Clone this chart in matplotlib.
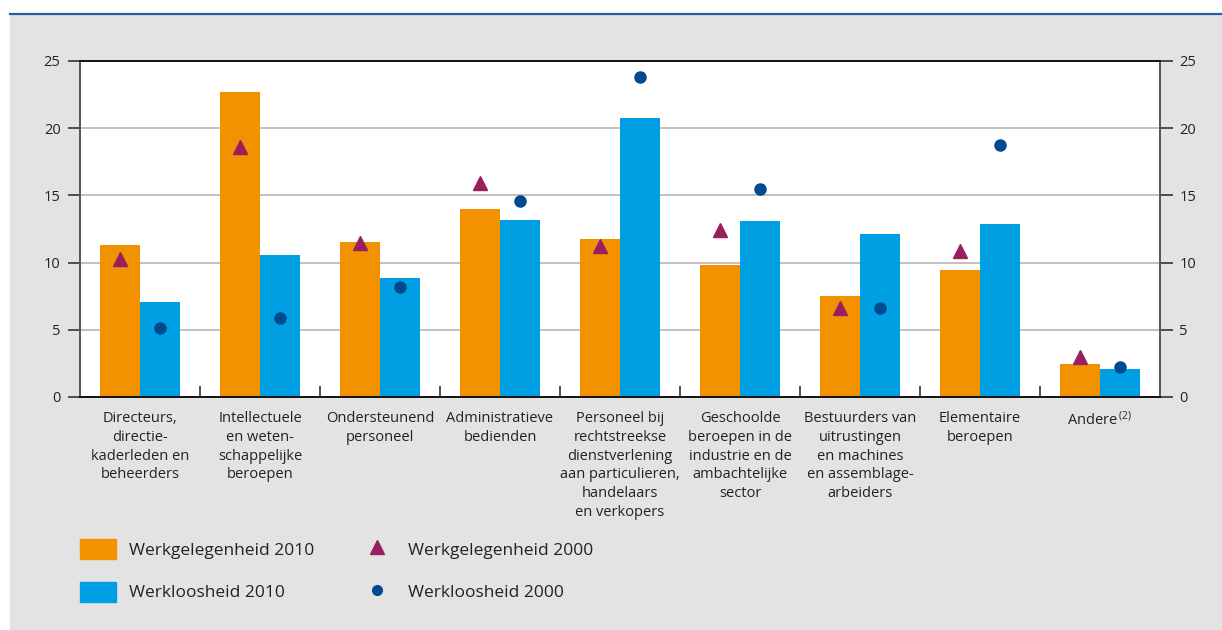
import numpy as np
import matplotlib
matplotlib.use("Agg")
import matplotlib.pyplot as plt
from matplotlib.patches import Patch
from matplotlib.lines import Line2D

plt.rcParams["font.family"] = ["Open Sans", "DejaVu Sans"]
plt.rcParams["mathtext.fontset"] = "custom"
plt.rcParams["mathtext.rm"] = "Open Sans"
plt.rcParams["mathtext.it"] = "Open Sans"

# ---- data ----
categories = [
    "Directeurs,\ndirectie-\nkaderleden en\nbeheerders",
    "Intellectuele\nen weten-\nschappelijke\nberoepen",
    "Ondersteunend\npersoneel",
    "Administratieve\nbedienden",
    "Personeel bij\nrechtstreekse\ndienstverlening\naan particulieren,\nhandelaars\nen verkopers",
    "Geschoolde\nberoepen in de\nindustrie en de\nambachtelijke\nsector",
    "Bestuurders van\nuitrustingen\nen machines\nen assemblage-\narbeiders",
    "Elementaire\nberoepen",
    "Andere$\\,^{(2)}$",
]
werk_2010 = [11.3, 22.7, 11.5, 14.0, 11.75, 9.8, 7.5, 9.45, 2.45]
werkloos_2010 = [7.1, 10.6, 8.85, 13.15, 20.75, 13.1, 12.1, 12.9, 2.1]
werk_2000 = [10.3, 18.6, 11.45, 15.9, 11.2, 12.4, 6.6, 10.9, 3.0]
werkloos_2000 = [5.1, 5.9, 8.2, 14.6, 23.8, 15.45, 6.6, 18.75, 2.2]

c_orange = "#f39200"
c_blue = "#009fe3"
c_tri = "#9a1f5f"
c_dot = "#004a8f"
c_bg = "#e3e3e3"
c_text = "#222222"

fig = plt.figure(figsize=(12.22, 6.3), dpi=100)
fig.patches.append(plt.Rectangle((10 / 1222, 0), 1, 1 - 15 / 630,
                                 transform=fig.transFigure, color=c_bg, zorder=-10))
fig.lines.append(Line2D([10 / 1222, 1], [1 - 13.5 / 630] * 2, transform=fig.transFigure,
                        color="#2b5c9e", lw=1.6))

ax = fig.add_axes([80 / 1222, 1 - 397 / 630, 1080 / 1222, 336 / 630])
x = np.arange(len(categories))
w = 1 / 3

ax.bar(x - w / 2, werk_2010, w, color=c_orange, zorder=2)
ax.bar(x + w / 2, werkloos_2010, w, color=c_blue, zorder=2)
ax.plot(x - w / 2, werk_2000, "^", color=c_tri, ms=10.5, ls="none", zorder=3)
ax.plot(x + w / 2, werkloos_2000, "o", color=c_dot, ms=8, ls="none", zorder=3)

ax.set_xlim(-0.5, len(categories) - 0.5)
ax.set_ylim(0, 25)
ax.set_yticks([0, 5, 10, 15, 20, 25])
ax.yaxis.grid(True, color="#b0b0b0", lw=1.1, zorder=0)
ax.set_axisbelow(True)

ax.set_xticks(x)
ax.set_xticklabels(categories, fontsize=10.5, color=c_text, linespacing=1.35, va="top")
ax.set_xticks(np.arange(0.5, len(categories) - 1, 1), minor=True)
ax.tick_params(axis="x", which="major", length=0, pad=10)
ax.tick_params(axis="x", which="minor", direction="in", length=8, width=1.2, color="#333333")
ax.tick_params(axis="y", left=True, right=True, labelleft=True, labelright=True,
               length=9, width=1.2, color="#333333", labelsize=10.5, labelcolor=c_text, pad=5)

for side in ["top", "bottom"]:
    ax.spines[side].set_color("#111111")
    ax.spines[side].set_linewidth(1.4)
for side in ["left", "right"]:
    ax.spines[side].set_color("#555555")
    ax.spines[side].set_linewidth(1.4)

handles = [
    Patch(color=c_orange),
    Patch(color=c_blue),
    Line2D([], [], marker="^", color=c_tri, ls="none", ms=10),
    Line2D([], [], marker="o", color=c_dot, ls="none", ms=7),
]
labels = ["Werkgelegenheid 2010", "Werkloosheid 2010",
          "Werkgelegenheid 2000", "Werkloosheid 2000"]
leg = fig.legend(handles, labels, loc="upper left", bbox_to_anchor=(80 / 1222, 1 - 539 / 630),
                 ncol=2, frameon=False, fontsize=12.5, borderpad=0, borderaxespad=0,
                 handlelength=2.1, handleheight=1.4, handletextpad=0.7,
                 labelspacing=1.3, columnspacing=2.6)
for t in leg.get_texts():
    t.set_color(c_text)

fig.savefig("out.png", dpi=100)
